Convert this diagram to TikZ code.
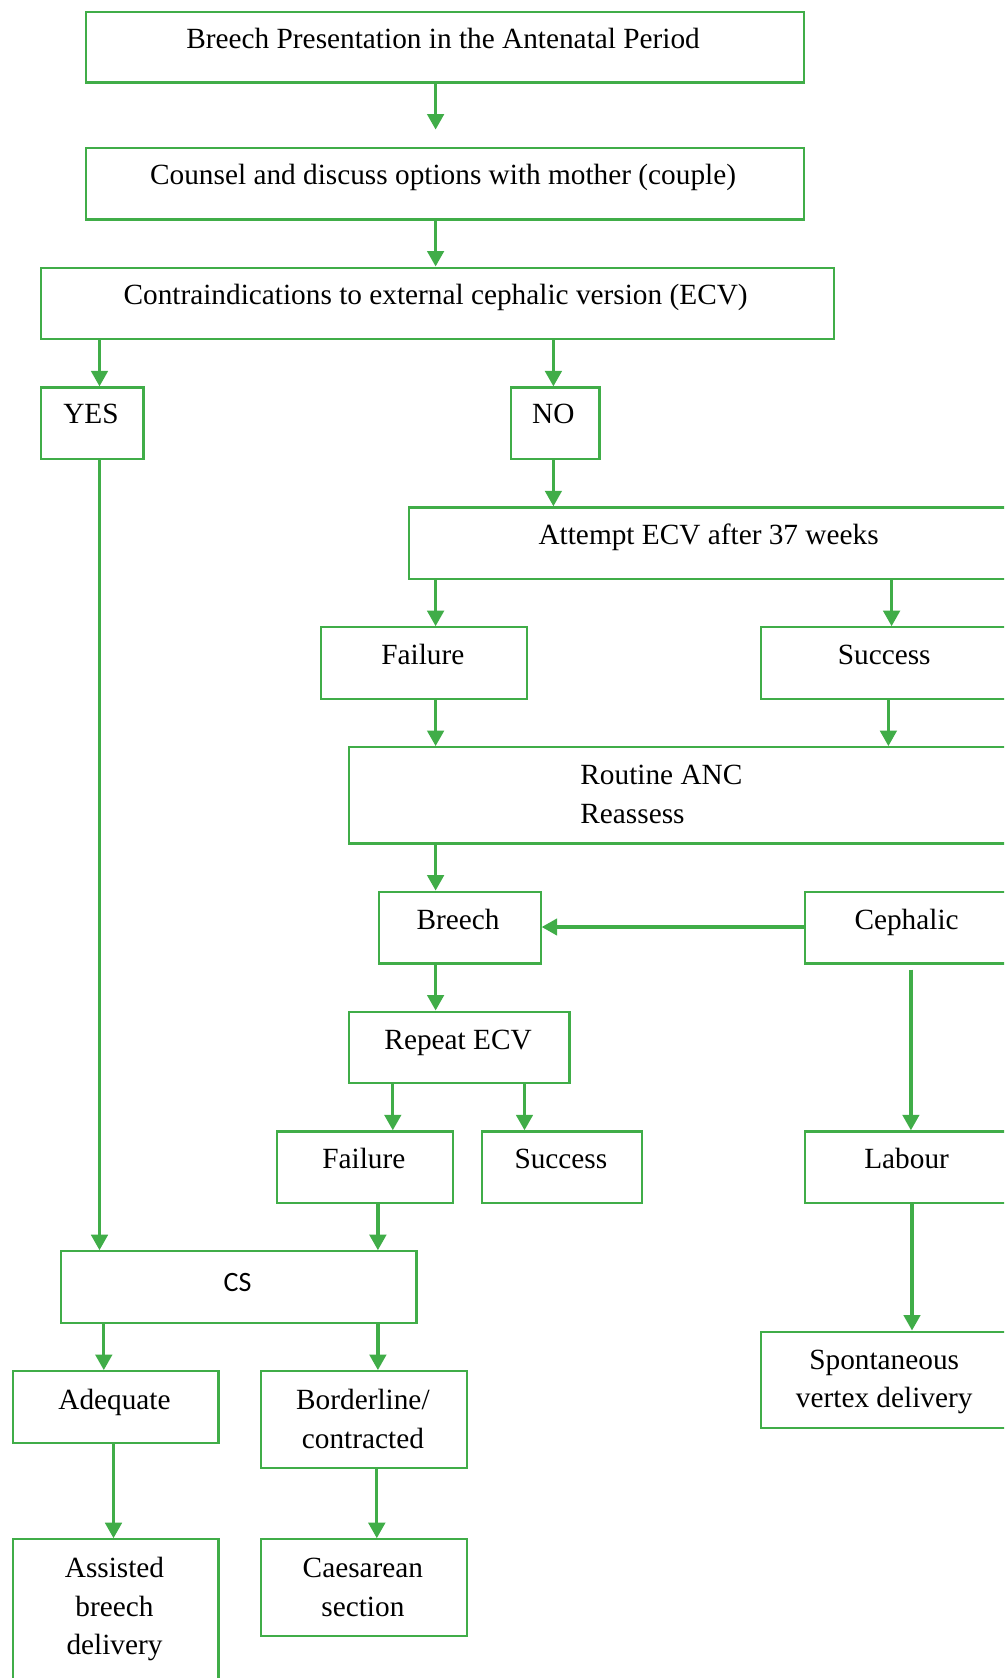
\documentclass[tikz,border=0pt]{standalone}
\usepackage{fontspec}
\setmainfont{Liberation Serif}
\newfontfamily\csfont{Carlito}
\usetikzlibrary{arrows.meta}
\definecolor{grn}{RGB}{64,173,72}
\tikzset{
  box/.style={draw=grn, line width=2.2pt, inner sep=0pt, fill=none},
  arr/.style={draw=grn, line width=3.2pt, -{Triangle[width=16.5pt,length=15.5pt]}},
  txt/.style={inner sep=0pt, anchor=base, text=black,
    font=\fontsize{29.3}{38.5}\selectfont},
}
% rectangle from its top-left to its bottom-right corner (y grows downward)
\newcommand\flowbox[5]{%
  \node[box, anchor=north west, minimum width=#4pt-#2pt, minimum height=#5pt-#3pt] (#1) at (#2,#3) {};}
\setlength{\tabcolsep}{0pt}
\begin{document}
\begin{tikzpicture}[x=1pt, y=-1pt]
\useasboundingbox (0,0) rectangle (1004,1678);
\clip (0,0) rectangle (1004,1678);

% boxes
\flowbox{b1}{84.6}{10.7}{802.8}{81.4}
\flowbox{b2}{84.6}{146.6}{802.8}{218.4}
\flowbox{b3}{39.6}{266.5}{832.8}{338.2}
\flowbox{yes}{39.6}{386.4}{142.4}{458.1}
\flowbox{no}{509.5}{386.4}{598.4}{458.1}
\flowbox{att}{407.8}{506.3}{1012}{578.0}
\flowbox{fail}{320.0}{626.2}{525.6}{697.9}
\flowbox{succ}{760.0}{626.2}{1012}{697.9}
\flowbox{anc}{347.9}{746.1}{1012}{842.4}
\flowbox{bre}{377.9}{890.6}{539.5}{962.3}
\flowbox{cep}{803.9}{890.6}{1012}{962.3}
\flowbox{rep}{347.9}{1010.5}{568.4}{1082.2}
\flowbox{failb}{276.2}{1130.3}{451.7}{1202.0}
\flowbox{succb}{480.6}{1130.3}{641.2}{1202.0}
\flowbox{lab}{803.9}{1130.3}{1012}{1202.0}
\flowbox{cs}{59.9}{1250.2}{415.3}{1322.0}
\flowbox{adq}{11.8}{1370.1}{217.3}{1441.8}
\flowbox{bord}{260.1}{1370.1}{465.6}{1466.5}
\flowbox{svd}{760.0}{1330.5}{1012}{1426.8}
\flowbox{abd}{11.8}{1538.2}{217.3}{1692}
\flowbox{caes}{260.1}{1538.2}{465.6}{1634.5}

% texts
\node[txt] (t1) at (443.1,48.2) {Breech Presentation in the Antenatal Period};
\node[txt] (t2) at (443.1,184.2) {Counsel and discuss options with mother (couple)};
\node[txt] (t3) at (435.6,304.1) {Contraindications to external cephalic version (ECV)};
\node[txt] (tyes) at (91,423.9) {YES};
\node[txt] (tno) at (553.4,423.9) {NO};
\node[txt] (tatt) at (708.6,544.9) {Attempt ECV after 37 weeks};
\node[txt] (tfail) at (422.8,664.8) {Failure};
\node[txt] (tsucc) at (884.2,664.8) {Success};
\node[txt, anchor=base west] (tanc) at (580.2,784.7) {\begin{tabular}[t]{l}Routine ANC\\Reassess\end{tabular}};
\node[txt] (tbre) at (458.1,929.2) {Breech};
\node[txt] (tcep) at (906.6,929.2) {Cephalic};
\node[txt] (trep) at (458.1,1049.1) {Repeat ECV};
\node[txt] (tfailb) at (363.9,1168.9) {Failure};
\node[txt] (tsuccb) at (560.9,1168.9) {Success};
\node[txt] (tlab) at (906.6,1168.9) {Labour};
\node[txt, font=\csfont\fontsize{28}{36}\selectfont] (tcs) at (237.6,1291) {CS};
\node[txt] (tadq) at (114.5,1409.8) {Adequate};
\node[txt] (tbord) at (362.9,1409.8) {\begin{tabular}[t]{c}Borderline/\\contracted\end{tabular}};
\node[txt] (tsvd) at (884.2,1369.1) {\begin{tabular}[t]{c}Spontaneous\\vertex delivery\end{tabular}};
\node[txt] (tabd) at (114.5,1577.8) {\begin{tabular}[t]{c}Assisted\\breech\\delivery\end{tabular}};
\node[txt] (tcaes) at (362.9,1577.8) {\begin{tabular}[t]{c}Caesarean\\section\end{tabular}};

% connectors
\draw[arr, shorten >=17pt] (435.6,0 |- b1.south) -- (435.6,0 |- b2.north);
\draw[arr] (435.6,0 |- b2.south) -- (435.6,0 |- b3.north);
\draw[arr] (99.5,0 |- b3.south) -- (99.5,0 |- yes.north);
\draw[arr] (553.4,0 |- b3.south) -- (553.4,0 |- no.north);
\draw[arr] (553.4,0 |- no.south) -- (553.4,0 |- att.north);
\draw[arr] (435.6,0 |- att.south) -- (435.6,0 |- fail.north);
\draw[arr] (891.6,0 |- att.south) -- (891.6,0 |- succ.north);
\draw[arr] (435.6,0 |- fail.south) -- (435.6,0 |- anc.north);
\draw[arr] (888.4,0 |- succ.south) -- (888.4,0 |- anc.north);
\draw[arr] (435.6,0 |- anc.south) -- (435.6,0 |- bre.north);
\draw[arr] (cep.west |- 0,927) -- (bre.east |- 0,927);
\draw[arr] (435.6,0 |- bre.south) -- (435.6,0 |- rep.north);
\draw[arr] (392.8,0 |- rep.south) -- (392.8,0 |- failb.north);
\draw[arr] (524.5,0 |- rep.south) -- (524.5,0 |- succb.north);
\draw[arr, shorten <=5pt] (910.9,0 |- cep.south) -- (910.9,0 |- lab.north);
\draw[arr] (99.5,0 |- yes.south) -- (99.5,0 |- cs.north);
\draw[arr] (377.9,0 |- failb.south) -- (377.9,0 |- cs.north);
\draw[arr] (103.8,0 |- cs.south) -- (103.8,0 |- adq.north);
\draw[arr] (377.9,0 |- cs.south) -- (377.9,0 |- bord.north);
\draw[arr] (912,0 |- lab.south) -- (912,0 |- svd.north);
\draw[arr] (113.5,0 |- adq.south) -- (113.5,0 |- abd.north);
\draw[arr] (376.8,0 |- bord.south) -- (376.8,0 |- caes.north);
\end{tikzpicture}
\end{document}
